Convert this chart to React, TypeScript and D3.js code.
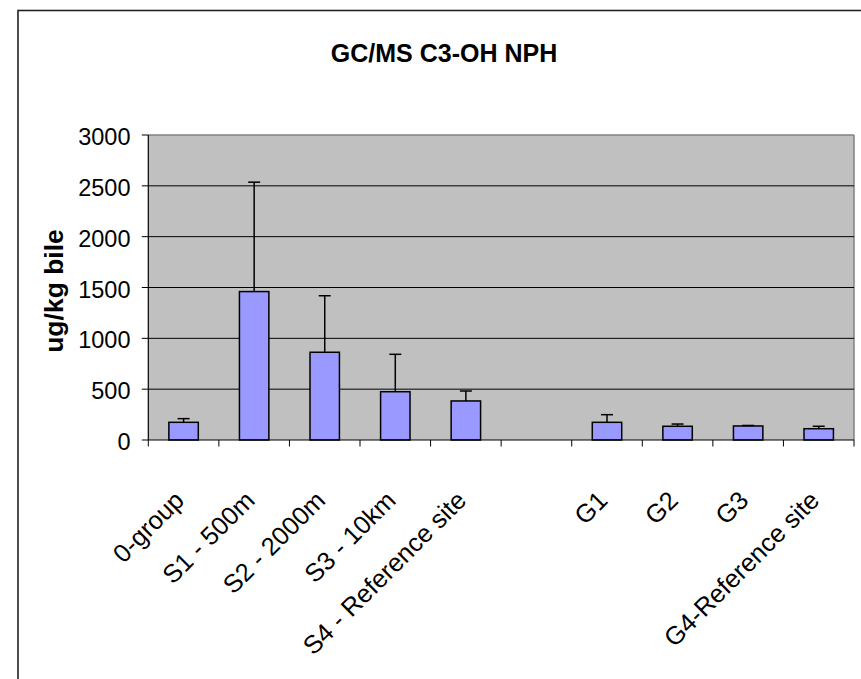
import React from "react";
import * as d3 from "d3";

const title = "GC/MS C3-OH NPH";
const yAxisTitle = "ug/kg bile";
const categories = [
  "0-group",
  "S1 - 500m",
  "S2 - 2000m",
  "S3 - 10km",
  "S4 - Reference site",
  " ",
  "G1",
  "G2",
  "G3",
  "G4-Reference site",
];
const values: (number | null)[] = [174, 1460, 863, 475, 384, null, 174, 135, 138, 111];
const errorsPlus: (number | null)[] = [36, 1076, 556, 368, 98, null, 75, 22, 5, 24];
const yTicks = [0, 500, 1000, 1500, 2000, 2500, 3000];

const W = 861;
const H = 679;
const plotLeft = 148.3;
const plotRight = 854;
const plotTop = 135;
const plotBottom = 440;
const FONT = "Arial, 'Liberation Sans', sans-serif";

export default function App() {
  const x = d3
    .scaleBand<string>()
    .domain(categories)
    .range([plotLeft, plotRight])
    .paddingInner(0.583)
    .paddingOuter(0.2915);
  const slot = d3
    .scaleBand<string>()
    .domain(categories)
    .range([plotLeft, plotRight])
    .padding(0);
  const y = d3.scaleLinear().domain([0, 3000]).range([plotBottom, plotTop]);

  const bw = x.bandwidth();
  const capW = 12;

  return (
    <svg
      width={W}
      height={H}
      style={{ position: "absolute", left: 0, top: 0, background: "#fff" }}
    >
      <rect x={0} y={0} width={W} height={H} fill="#fff" />
      {/* outer chart border */}
      <rect
        x={18}
        y={10.5}
        width={W + 20}
        height={H + 20}
        fill="none"
        stroke="#222"
        strokeWidth={1.6}
      />
      {/* title */}
      <text
        x={444}
        y={61.5}
        textAnchor="middle"
        fontFamily={FONT}
        fontWeight="bold"
        fontSize={25}
        fill="#000"
      >
        {title}
      </text>
      {/* plot area */}
      <rect
        x={plotLeft}
        y={plotTop}
        width={plotRight - plotLeft}
        height={plotBottom - plotTop}
        fill="#C0C0C0"
      />
      <line x1={plotLeft} x2={plotRight} y1={plotTop} y2={plotTop} stroke="#808080" strokeWidth={1.5} />
      <line x1={plotRight} x2={plotRight} y1={plotTop} y2={plotBottom} stroke="#808080" strokeWidth={1.5} />
      {/* gridlines */}
      {yTicks
        .filter((t) => t > 0 && t < 3000)
        .map((t) => (
          <line
            key={"g" + t}
            x1={plotLeft}
            x2={plotRight}
            y1={y(t)}
            y2={y(t)}
            stroke="#000"
            strokeWidth={1}
          />
        ))}
      {/* bars */}
      {categories.map((c, i) => {
        const v = values[i];
        if (v == null) return null;
        const x0 = x(c)!;
        return (
          <rect
            key={"b" + i}
            x={x0}
            y={y(v)}
            width={bw}
            height={y(0) - y(v)}
            fill="#9999FF"
            stroke="#000"
            strokeWidth={1.5}
          />
        );
      })}
      {/* error bars */}
      {categories.map((c, i) => {
        const v = values[i];
        const e = errorsPlus[i];
        if (v == null || e == null) return null;
        const cx = x(c)! + bw / 2;
        return (
          <g key={"e" + i} stroke="#000" strokeWidth={1.5}>
            <line x1={cx} x2={cx} y1={y(v)} y2={y(v + e)} />
            <line x1={cx - capW / 2} x2={cx + capW / 2} y1={y(v + e)} y2={y(v + e)} />
          </g>
        );
      })}
      {/* y axis */}
      <line x1={plotLeft} x2={plotLeft} y1={plotTop} y2={plotBottom} stroke="#000" strokeWidth={1.2} />
      {yTicks.map((t) => (
        <g key={"yt" + t}>
          <line x1={plotLeft - 6.5} x2={plotLeft} y1={y(t)} y2={y(t)} stroke="#000" strokeWidth={1} />
          <text
            x={130.5}
            y={y(t) + 10}
            textAnchor="end"
            fontFamily={FONT}
            fontSize={23.5}
            fill="#000"
          >
            {t}
          </text>
        </g>
      ))}
      {/* x axis */}
      <line x1={plotLeft} x2={plotRight} y1={plotBottom} y2={plotBottom} stroke="#000" strokeWidth={1.2} />
      {categories.map((c, i) => (
        <line
          key={"xt" + i}
          x1={slot(c)!}
          x2={slot(c)!}
          y1={plotBottom}
          y2={plotBottom + 6.5}
          stroke="#000"
          strokeWidth={1}
        />
      ))}
      <line x1={plotRight} x2={plotRight} y1={plotBottom} y2={plotBottom + 6.5} stroke="#000" strokeWidth={1} />
      {categories.map((c, i) => {
        const cx = slot(c)! + slot.bandwidth() / 2 + 2;
        const cy = 502;
        return (
          <text
            key={"xl" + i}
            transform={`translate(${cx},${cy}) rotate(-45)`}
            textAnchor="end"
            fontFamily={FONT}
            fontSize={25.5}
            fill="#000"
          >
            {c.trim()}
          </text>
        );
      })}
      {/* y axis title */}
      <text
        transform={`translate(63,291) rotate(-90)`}
        textAnchor="middle"
        fontFamily={FONT}
        fontWeight="bold"
        fontSize={26.5}
        fill="#000"
      >
        {yAxisTitle}
      </text>
    </svg>
  );
}
